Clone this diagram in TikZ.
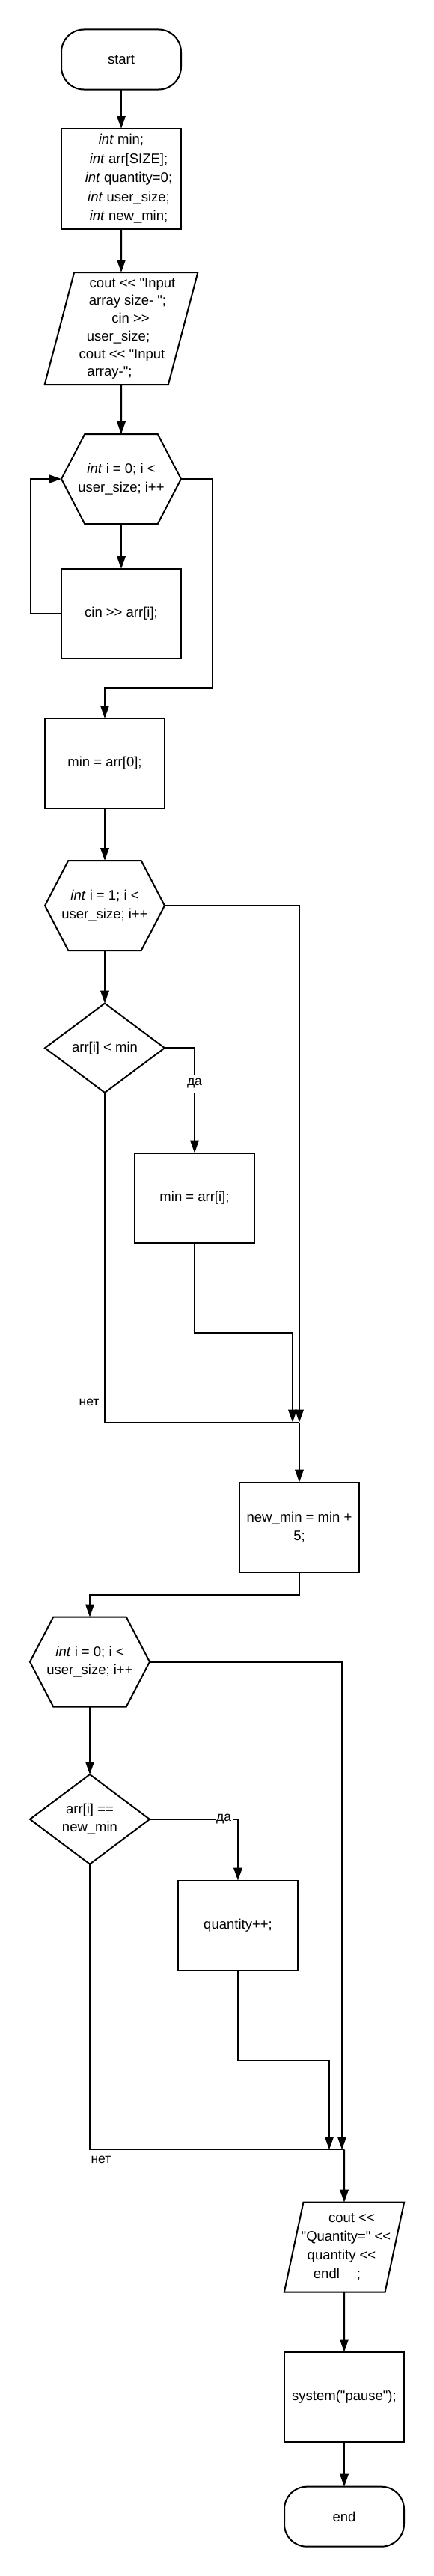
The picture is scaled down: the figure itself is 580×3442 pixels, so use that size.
\documentclass[tikz,border=0pt]{standalone}
\usepackage{fontspec}
\setmainfont{Liberation Sans}[Ligatures=TeXOff]
\usetikzlibrary{arrows.meta,positioning,shapes}

\begin{document}
\begin{tikzpicture}[node distance=60pt, line width=2pt, >={Triangle[length=17pt,width=11.5pt]},
	font=\fontsize{18.5}{24.5}\selectfont, every node/.append style={outer sep=0pt}]
	\tikzstyle{rect}=[draw, rectangle, minimum width=160pt, minimum height=120pt, align=center]
	\tikzstyle{term}=[draw, rectangle, rounded corners=30pt, minimum width=160pt, minimum height=80pt]
	\tikzstyle{hexa}=[draw, signal, signal to=west and east, signal pointer angle=125,
		minimum width=160pt, minimum height=120pt, inner xsep=-10pt, align=center]
	\tikzstyle{dec}=[draw, diamond, minimum width=160pt, minimum height=119.5pt, inner sep=1pt, align=center]
	\tikzstyle{io}=[draw, trapezium, trapezium left angle=75, trapezium right angle=105,
		trapezium stretches=true, inner sep=2pt, align=center]
	\tikzstyle{lbl}=[font=\fontsize{17.5}{19}\selectfont, inner xsep=1.5pt, inner ysep=5.5pt]

	\useasboundingbox (0,0) rectangle (580pt,-3442pt);

	\node[term] (start) at (162pt,-79.5pt) {start};
	\node[rect, minimum height=134pt, font=\fontsize{18.5}{25.5}\selectfont] (decl) [below=52.5pt of start]
		{\textit{int} min;\\ \kern20pt\textit{int} arr[SIZE];\\ \kern20pt\textit{int} quantity=0;\\
		\kern20pt\textit{int} user\_size;\\ \kern20pt\textit{int} new\_min;};
	\node[io, minimum width=205pt, minimum height=150pt, inner xsep=-13pt, font=\fontsize{18.5}{23.7}\selectfont]
		(inp) [below=58pt of decl] {\kern30pt cout << "Input\\ \kern17pt array size- ";\\ \kern25pt cin >>\\
		\kern-8pt user\_size;\\ \kern2pt cout << "Input\\ \kern-31pt array-";};
	\node[hexa] (loopa) [below=66pt of inp] {\textit{int} i = 0; i <\\ user\_size; i++};
	\node[rect] (read) [below=of loopa] {cin >> arr[i];};
	\node[rect] (mina) [below=80pt of read, xshift=-22pt] {min = arr[0];};

	\node[hexa] (loopb) [below=70pt of mina] {\textit{int} i = 1; i <\\ user\_size; i++};
	\node[dec] (cmpa) [below=70.5pt of loopb] {arr[i] < min};
	\node[rect] (setmin) [below=80.5pt of cmpa, xshift=120pt] {min = arr[i];};
	\node[rect] (newmin) [below=320pt of setmin, xshift=140pt] {new\_min = min +\\ 5;};

	\node[hexa] (loopc) [below=of newmin, xshift=-280pt] {\textit{int} i = 0; i <\\ user\_size; i++};
	\node[dec] (cmpb) [below=90.5pt of loopc] {arr[i] ==\\ new\_min};
	\node[rect] (count) [below=22pt of cmpb, xshift=198pt] {quantity++;};

	\node[io, minimum width=160.5pt, minimum height=120pt, inner xsep=-9pt, font=\fontsize{18.5}{25}\selectfont]
		(outp) [below=310pt of count, xshift=142pt] {\kern20pt cout <<\\ \kern5pt "Quantity=" <<\\
		\kern-7pt quantity <<\\ \kern-19pt endl\hspace{23pt};};
	\node[rect] (pause) [below=80pt of outp] {system("pause");};
	\node[term] (fin) [below=of pause] {end};

	\coordinate[above=41pt of mina.north] (ja);
	\coordinate[above=80pt of newmin.north] (jb);
	\coordinate[above=70.3pt of outp.north] (jc);

	\draw[->] (start) -- (decl);
	\draw[->] (decl) -- (inp);
	\draw[->] (inp) -- (loopa);
	\draw[->] (loopa) -- (read);
	\draw[->] (read.west) -- ++(-41pt,0) |- (loopa.west);
	\draw[->] (loopa.east) -- ++(41.6pt,0) |- (ja) -- (mina);
	\draw[->] (mina) -- (loopb);
	\draw[->] (loopb) -- (cmpa);

	\draw[->] (cmpa.east) -| node[lbl, pos=0.67, fill=white] {да} (setmin);
	\draw[->] (setmin.south) -- ++(0,-120pt) -| ([xshift=-9pt]jb);
	\draw[->] (loopb.east) -| (jb);
	\draw (cmpa.south) |- node[lbl, pos=0.47, left=6pt] {нет} (jb);
	\draw[->] (jb) -- (newmin);
	\draw[->] (newmin.south) -- ++(0,-30pt) -| (loopc.north);

	\draw[->] (loopc) -- (cmpb);
	\draw[->] (cmpb.east) -| node[lbl, pos=0.42, fill=white] {да} (count);
	\draw[->] (count.south) -- ++(0,-120pt) -| ([xshift=-20pt]jc);
	\draw[->] (loopc.east) -| ([xshift=-3pt]jc);
	\draw (cmpb.south) |- node[lbl, pos=0.5, anchor=north west, yshift=-3pt] {нет} (jc);
	\draw[->] (jc) -- (outp);
	\draw[->] (outp) -- (pause);
	\draw[->] (pause) -- (fin);
\end{tikzpicture}
\end{document}
